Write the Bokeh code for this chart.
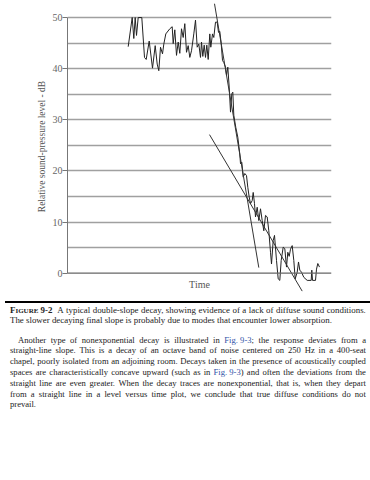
from bokeh.plotting import figure
from bokeh.models import Div, Span, FixedTicker
from bokeh.layouts import column
from bokeh.core.properties import value
from bokeh.embed import file_html
from bokeh.resources import INLINE

# Measured decay trace (time in arbitrary units, level in dB)
trace_t = [60.7, 64.7, 66.3, 67.7, 69.0, 70.7, 74.3, 77.0, 78.7, 81.7, 85.0, 87.7, 89.7, 91.3,
           93.0, 95.0, 96.3, 98.3, 102.3, 104.7, 105.7, 107.3, 109.0, 110.7, 112.3, 114.0,
           115.7, 117.3, 119.0, 120.7, 122.3, 124.0, 126.3, 128.0, 129.7, 131.3, 133.0, 134.0,
           135.3, 136.7, 138.0, 139.3, 140.7, 142.3, 143.3, 145.0, 146.3, 148.0, 149.7, 151.0,
           152.3, 153.7, 155.0, 156.3, 158.0, 159.0, 160.3, 161.7, 163.0, 164.3, 165.3, 166.3,
           168.3, 170.3, 172.3, 173.0, 174.3, 175.7, 177.3, 179.0, 180.3, 181.7, 183.0, 184.7,
           185.7, 187.0, 188.0, 189.7, 191.3, 193.0, 194.7, 196.3, 198.0, 199.7, 201.3, 203.0,
           204.0, 205.7, 207.0, 209.0, 210.7, 212.3, 213.7, 215.7, 217.3, 219.0, 220.3, 221.7,
           223.0, 224.7, 226.3, 227.7, 229.7, 231.0, 232.3, 234.0, 236.3, 239.7, 243.7, 244.3,
           245.0, 248.0, 249.0, 250.3, 252.0]
trace_db = [44.3, 50.0, 45.9, 50.0, 46.5, 50.0, 50.0, 42.2, 41.8, 45.4, 40.1, 44.5, 40.9, 39.6,
            44.2, 42.9, 44.8, 46.8, 47.8, 48.2, 44.9, 47.6, 42.6, 45.2, 43.0, 47.8,
            46.1, 48.8, 43.2, 44.5, 42.2, 43.5, 46.8, 49.5, 44.2, 44.8, 42.2, 45.2,
            42.4, 44.6, 42.2, 44.6, 41.8, 46.8, 44.2, 46.8, 46.1, 49.1, 49.1, 47.1,
            47.3, 44.9, 41.6, 41.2, 40.3, 38.7, 40.3, 36.4, 31.5, 35.1, 35.4, 30.9,
            28.5, 26.6, 23.3, 21.4, 21.7, 18.8, 19.5, 19.1, 16.8, 14.9, 13.6, 14.2,
            15.8, 13.6, 11.0, 12.9, 10.3, 12.6, 10.3, 8.3, 11.3, 11.0, 8.3, 4.1,
            1.8, 6.4, 7.4, 2.5, -1.1, -1.4, 2.5, 5.1, 4.8, 1.2, 4.1, 3.3,
            4.7, 5.4, 2.5, -1.1, 0.2, 2.2, 0.6, 0.2, -0.8, -1.4, -1.4, 0.6,
            -1.4, -1.4, 0.8, 1.9, 1.2]

# Fitted slopes
steep_t = [147.0, 191.3]
steep_db = [52.7, 1.1]
slow_t = [142.0, 234.7]
slow_db = [27.1, -3.5]

y_ticks = [0, 10, 20, 30, 40, 50]
grid_levels = [5, 10, 15, 20, 25, 30, 35, 40, 45, 50]

p = figure(width=370, height=292, x_range=(0, 264), y_range=(-3.77, 53.33),
           output_backend="svg", toolbar_location=None,
           min_border_left=67, min_border_right=39, min_border_top=0, min_border_bottom=0,
           outline_line_color=None, background_fill_color="white", border_fill_color="white")

p.xaxis.visible = False
p.xgrid.visible = False
p.ygrid.ticker = FixedTicker(ticks=grid_levels)
p.ygrid.grid_line_color = "#a0a0a0"
p.ygrid.grid_line_width = 1.3

ax = p.yaxis[0]
ax.bounds = (0, 50)
ax.ticker = FixedTicker(ticks=y_ticks)
ax.minor_tick_line_color = None
ax.major_tick_out = 5
ax.major_tick_in = 0
ax.axis_line_color = "#777777"
ax.major_tick_line_color = "#777777"
ax.major_label_text_font = "Liberation Serif"
ax.major_label_text_font_size = "10px"
ax.major_label_text_color = "#666666"
ax.major_label_standoff = 0
ax.axis_label = "Relative sound-pressure level - dB"
ax.axis_label_text_font = "Liberation Serif"
ax.axis_label_text_font_size = "9.5px"
ax.axis_label_text_font_style = "normal"
ax.axis_label_text_color = "#555555"
ax.axis_label_standoff = 3

p.add_layout(Span(location=0, dimension="width", line_color="#666666", line_width=1.3))

p.line(trace_t, trace_db, line_color="#222222", line_width=1)
p.line(steep_t, steep_db, line_color="#333333", line_width=1)
p.line(slow_t, slow_db, line_color="#333333", line_width=1)

p.text(x=[132], y=[-2.2], text=["Time"], text_font=value("Liberation Serif"),
       text_font_size="10px", text_color="#555555", text_align="center",
       text_baseline="middle")

FIG = "<span style='color:#2f52a8'>Fig.&nbsp;9-3</span>"
HEAD = "<b>F<span style='font-size:7px'>IGURE</span>&nbsp;9-2</b>&nbsp;"

caption_lines = [
    "§H A typical double-slope decay, showing evidence of a lack of diffuse sound conditions.",
]
caption_last = "The slower decaying final slope is probably due to modes that encounter lower absorption."
para_lines = [
    "Another type of nonexponential decay is illustrated in §F; the response deviates from a",
    "straight-line slope. This is a decay of an octave band of noise centered on 250 Hz in a 400-seat",
    "chapel, poorly isolated from an adjoining room. Decays taken in the presence of acoustically coupled",
    "spaces are characteristically concave upward (such as in §F) and often the deviations from the",
    "straight line are even greater. When the decay traces are nonexponential, that is, when they depart",
    "from a straight line in a level versus time plot, we conclude that true diffuse conditions do not",
]
para_last = "prevail."


def justified(line, h, indent=0):
    toks = [t.replace("§F", FIG).replace("§H", HEAD) for t in line.split(" ")]
    spans = "".join(f"<span style='white-space:nowrap'>{t}</span>" for t in toks)
    return (f"<div style='display:flex;justify-content:space-between;white-space:nowrap;"
            f"height:{h}px;line-height:{h}px;margin-left:{indent}px'>{spans}</div>")


cap_html = "".join(justified(l, 10.3) for l in caption_lines)
cap_html += f"<div style='height:10.3px;line-height:10.3px;white-space:nowrap'>{caption_last}</div>"
par_html = "".join(justified(l, 10.8, 8 if i == 0 else 0) for i, l in enumerate(para_lines))
par_html += f"<div style='height:10.8px;line-height:10.8px;white-space:nowrap'>{para_last}</div>"

html = f"""
<div style="font-family:'Liberation Serif',serif;color:#222;width:370px;">
<div style="border-top:2.5px solid #000;margin-top:4px;"></div>
<div style="font-size:8.9px;margin-top:2px;margin-left:5px;width:356px;">{cap_html}</div>
<div style="font-size:8.6px;margin-top:9px;margin-left:5px;width:356px;">{par_html}</div>
</div>
"""
div = Div(text=html, width=370)

layout = column(p, div, spacing=0)
open("out.html", "w").write(file_html(layout, INLINE))
